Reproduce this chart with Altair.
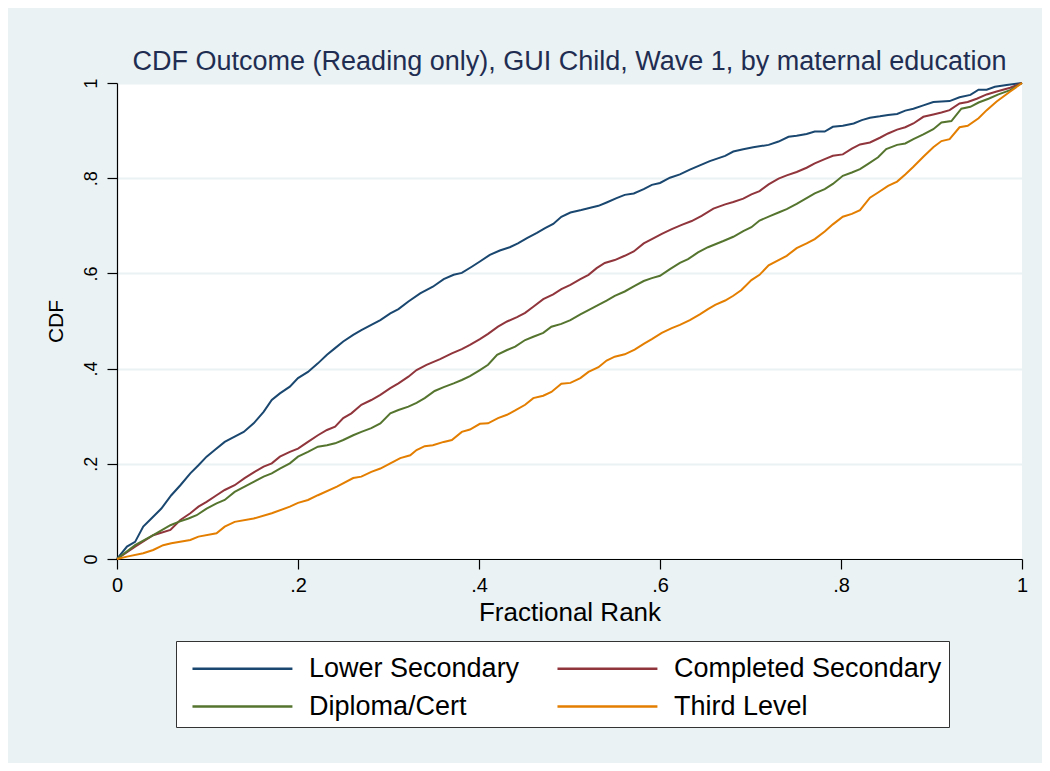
import altair as alt
import pandas as pd

series_names = ["Lower Secondary", "Completed Secondary", "Diploma/Cert", "Third Level"]
series_colors = ["#1a476f", "#90353b", "#55752f", "#e37e00"]

lower_secondary = [
    (0, 0), (.011, .026), (.02, .036), (.029, .068), (.038, .085), (.049, .106), (.06, .134), (.07, .155),
    (.081, .18), (.09, .197), (.099, .215), (.108, .229), (.119, .246), (.13, .257), (.14, .267), (.151, .285),
    (.162, .309), (.171, .334), (.18, .348), (.191, .362), (.2, .38), (.211, .393), (.222, .411), (.232, .429),
    (.241, .443), (.25, .457), (.261, .471), (.27, .481), (.281, .492), (.291, .502), (.302, .516), (.311, .525),
    (.322, .541), (.335, .558), (.349, .572), (.361, .588), (.372, .597), (.381, .601), (.392, .614), (.401, .625),
    (.412, .639), (.423, .648), (.434, .655), (.443, .663), (.453, .674), (.464, .685), (.473, .695), (.482, .704),
    (.491, .719), (.501, .728), (.513, .733), (.523, .738), (.532, .742), (.541, .749), (.552, .758), (.561, .765),
    (.571, .768), (.582, .777), (.591, .786), (.6, .79), (.611, .801), (.622, .808), (.633, .818), (.644, .827),
    (.655, .836), (.672, .847), (.681, .856), (.692, .861), (.703, .865), (.72, .87), (.731, .877), (.742, .887),
    (.751, .889), (.762, .893), (.771, .898), (.782, .898), (.791, .908), (.802, .91), (.814, .915), (.823, .922),
    (.832, .927), (.843, .93), (.852, .933), (.862, .935), (.871, .942), (.88, .946), (.891, .953), (.902, .96),
    (.92, .962), (.931, .97), (.943, .975), (.952, .986), (.961, .986), (.97, .992), (.983, .996), (1, 1),
]

completed_secondary = [
    (0, 0), (.02, .026), (.04, .05), (.059, .061), (.07, .082), (.081, .096), (.09, .11), (.099, .12),
    (.11, .134), (.119, .145), (.13, .155), (.141, .17), (.152, .183), (.162, .194), (.171, .201), (.18, .215),
    (.191, .225), (.2, .232), (.211, .246), (.222, .26), (.232, .271), (.241, .278), (.25, .296), (.259, .306),
    (.27, .324), (.281, .334), (.291, .345), (.302, .359), (.311, .369), (.322, .383), (.331, .397), (.342, .408),
    (.357, .42), (.37, .432), (.381, .441), (.39, .45), (.401, .462), (.41, .473), (.421, .488), (.431, .499),
    (.442, .508), (.451, .517), (.46, .53), (.471, .546), (.482, .556), (.491, .567), (.501, .576), (.512, .588),
    (.521, .597), (.53, .611), (.539, .622), (.55, .628), (.561, .637), (.571, .646), (.582, .663), (.591, .672),
    (.602, .683), (.613, .693), (.624, .702), (.635, .71), (.646, .721), (.659, .736), (.672, .745), (.681, .75),
    (.692, .757), (.701, .766), (.71, .773), (.72, .787), (.731, .799), (.74, .806), (.751, .813), (.762, .822),
    (.771, .831), (.782, .84), (.791, .847), (.802, .85), (.812, .862), (.821, .871), (.832, .875), (.843, .885),
    (.852, .894), (.862, .902), (.871, .907), (.88, .915), (.891, .929), (.902, .934), (.911, .938), (.92, .943),
    (.931, .957), (.94, .96), (.95, .967), (.961, .976), (.972, .982), (.987, .99), (1, 1),
]

diploma_cert = [
    (0, 0), (.02, .029), (.04, .05), (.059, .071), (.068, .078), (.079, .085), (.088, .092), (.099, .106),
    (.11, .117), (.119, .124), (.13, .141), (.141, .152), (.151, .162), (.162, .173), (.171, .18), (.18, .19),
    (.191, .201), (.2, .215), (.211, .225), (.222, .236), (.232, .239), (.241, .243), (.25, .25), (.261, .26),
    (.27, .267), (.281, .275), (.291, .285), (.302, .306), (.311, .313), (.322, .32), (.331, .328), (.34, .338),
    (.351, .353), (.361, .361), (.372, .369), (.381, .376), (.39, .384), (.401, .397), (.41, .408), (.42, .429),
    (.431, .439), (.44, .446), (.451, .46), (.46, .467), (.471, .475), (.48, .488), (.491, .494), (.501, .502),
    (.512, .514), (.521, .523), (.532, .534), (.541, .543), (.55, .553), (.561, .562), (.572, .574), (.582, .584),
    (.591, .59), (.6, .595), (.611, .609), (.622, .622), (.631, .63), (.642, .644), (.653, .655), (.67, .668),
    (.681, .677), (.692, .689), (.701, .697), (.71, .711), (.722, .721), (.731, .728), (.74, .735), (.751, .746),
    (.762, .758), (.771, .768), (.782, .777), (.791, .788), (.802, .805), (.812, .812), (.821, .819), (.83, .83),
    (.841, .844), (.85, .861), (.862, .87), (.871, .873), (.88, .882), (.891, .892), (.902, .903), (.911, .917),
    (.922, .92), (.933, .946), (.943, .95), (.952, .959), (.963, .967), (.974, .976), (.987, .985), (1, 1),
]

third_level = [
    (0, 0), (.011, .005), (.029, .012), (.04, .019), (.051, .029), (.06, .033), (.081, .04), (.09, .047),
    (.11, .054), (.119, .068), (.13, .078), (.151, .085), (.171, .096), (.191, .11), (.2, .118), (.211, .124),
    (.222, .134), (.243, .152), (.261, .17), (.27, .173), (.281, .183), (.291, .19), (.302, .201), (.313, .212),
    (.324, .218), (.331, .229), (.34, .237), (.349, .239), (.361, .246), (.37, .25), (.381, .267), (.39, .272),
    (.401, .284), (.41, .285), (.421, .296), (.431, .303), (.44, .312), (.451, .324), (.46, .338), (.471, .343),
    (.48, .351), (.491, .368), (.501, .37), (.512, .38), (.521, .393), (.532, .403), (.541, .417), (.55, .425),
    (.561, .43), (.572, .44), (.582, .452), (.591, .462), (.602, .475), (.613, .485), (.622, .492), (.633, .502),
    (.644, .514), (.653, .525), (.661, .534), (.672, .543), (.681, .553), (.69, .565), (.701, .586), (.71, .597),
    (.72, .617), (.731, .628), (.74, .637), (.751, .653), (.762, .663), (.771, .672), (.782, .688), (.791, .703),
    (.802, .719), (.812, .725), (.821, .733), (.832, .759), (.841, .77), (.852, .784), (.862, .793), (.871, .808),
    (.88, .824), (.891, .845), (.902, .865), (.911, .878), (.92, .882), (.931, .907), (.94, .91), (.952, .926),
    (.961, .943), (.972, .961), (.987, .982), (1, 1),
]

tick_values = [0, 0.2, 0.4, 0.6, 0.8, 1]
title_text = "CDF Outcome (Reading only), GUI Child, Wave 1, by maternal education"

rows = []
for name, pts in zip(series_names, [lower_secondary, completed_secondary, diploma_cert, third_level]):
    for i, (x, y) in enumerate(pts):
        rows.append({"group": name, "rank": x, "cdf": y, "idx": i})
df = pd.DataFrame(rows)

FONT = "Liberation Sans"
label_expr = "replace(format(datum.value, '.1~f'), '0.', '.')"

chart = alt.Chart(df).mark_line(strokeWidth=2).encode(
    x=alt.X(
        "rank:Q",
        scale=alt.Scale(domain=[0, 1], nice=False, zero=False),
        axis=alt.Axis(
            values=tick_values, title="Fractional Rank", grid=False, tickSize=10,
            labelExpr=label_expr, labelFontSize=20, labelPadding=6, labelFont=FONT,
            labelColor="#000", labelFlush=False, labelOverlap=False,
            titleFontSize=26, titleFont=FONT, titleFontWeight="normal", titleColor="#000",
            titleY=61, titleBaseline="alphabetic",
            domainColor="#000", domainWidth=1.2, tickColor="#000", tickWidth=1.2,
        ),
    ),
    y=alt.Y(
        "cdf:Q",
        scale=alt.Scale(domain=[0, 1], nice=False, zero=False),
        axis=alt.Axis(
            values=tick_values, title="CDF", grid=True, gridColor="#eaf2f3", gridWidth=2,
            tickSize=10, labelExpr=label_expr, labelFontSize=18, labelFont=FONT, labelColor="#000",
            labelAngle=270, labelAlign="center", labelBaseline="alphabetic", labelPadding=11,
            labelFlush=False, labelOverlap=False,
            titleFontSize=21, titleFont=FONT, titleFontWeight="normal", titleColor="#000",
            titleAngle=270, titleX=-55, titleBaseline="alphabetic",
            domainColor="#000", domainWidth=1.2, tickColor="#000", tickWidth=1.2,
        ),
    ),
    color=alt.Color(
        "group:N",
        scale=alt.Scale(domain=series_names, range=series_colors),
        sort=series_names,
        legend=alt.Legend(
            title=None, orient="none", legendX=59, legendY=558, columns=2,
            direction="horizontal",
            symbolType="M-0.58,0H4.68", symbolSize=1444, symbolStrokeWidth=2.5,
            labelFontSize=27, labelFont=FONT, labelColor="#000", labelLimit=600,
            labelOffset=85, columnPadding=28, rowPadding=4, padding=7,
            strokeColor="#333", fillColor="#ffffff",
        ),
    ),
    order="idx:Q",
).properties(
    width=905,
    height=476,
    autosize=alt.AutoSizeParams(type="none"),
    padding={"left": 109, "top": 75, "right": 20, "bottom": 204},
    background="#eaf2f3",
    title=alt.TitleParams(
        title_text, fontSize=27, font=FONT, fontWeight="normal", color="#1f2d52",
        anchor="middle", offset=2,
    ),
).configure_view(stroke=None, fill="white")

chart.save("out.html", embed_options={"renderer": "svg", "actions": False})
